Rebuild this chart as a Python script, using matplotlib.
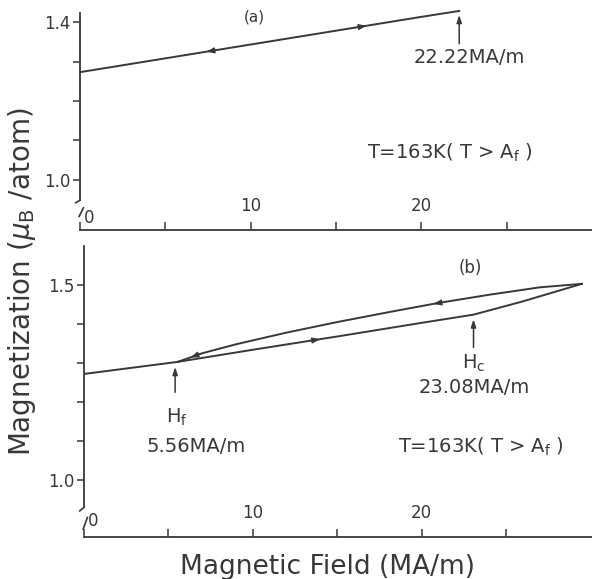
import numpy as np
import matplotlib
matplotlib.use("Agg")
import matplotlib.pyplot as plt

# ---- data ----
# panel (a): reversible M-H line
field_a = [0.0, 5.0, 10.0, 15.0, 20.0, 22.22]
magn_a = [1.273, 1.308, 1.343, 1.378, 1.413, 1.428]

# panel (b): initial part (common to both branches)
field_b_init = [0.0, 5.56]
magn_b_init = [1.272, 1.303]
# increasing-field branch (lower)
field_b_up = [5.56, 10.0, 15.0, 20.0, 23.08, 26.0, 29.5]
magn_b_up = [1.303, 1.334, 1.368, 1.403, 1.424, 1.458, 1.503]
# decreasing-field branch (upper)
field_b_down = [29.5, 27.0, 24.0, 21.0, 18.0, 15.0, 12.0, 9.0, 7.0, 5.56]
magn_b_down = [1.503, 1.494, 1.475, 1.454, 1.430, 1.405, 1.378, 1.348, 1.325, 1.303]

xticks = [0, 5, 10, 15, 20, 25]
xticklabels = ["", "", "10", "", "20", ""]
yticks_a = [1.0, 1.1, 1.2, 1.3, 1.4]
yticklabels_a = ["1.0", "", "", "", "1.4"]
yticks_b = [1.0, 1.1, 1.2, 1.3, 1.4, 1.5]
yticklabels_b = ["1.0", "", "", "", "", "1.5"]

INK = "#383838"
plt.rcParams["font.family"] = ["DejaVu Sans"]
plt.rcParams["mathtext.fontset"] = "dejavusans"

W, H = 592, 579
fig = plt.figure(figsize=(W / 100, H / 100), dpi=100)

def px_axes(left, top, bottom, right=592):
    return fig.add_axes([left / W, 1 - bottom / H, (right - left) / W, (bottom - top) / H])

ax_a = px_axes(80, 13, 230)
ax_b = px_axes(84, 246, 537)

def style(ax, yticks, ylabels, ylim, xlim, brk):
    ax.set_xlim(*xlim)
    ax.set_ylim(*ylim)
    for s in ["top", "right"]:
        ax.spines[s].set_visible(False)
    for s in ["left", "bottom"]:
        ax.spines[s].set_color(INK)
        ax.spines[s].set_linewidth(1.3)
    ax.spines["left"].set_bounds(brk, ylim[1])
    ax.set_xticks(xticks)
    ax.set_xticklabels(xticklabels)
    ax.set_yticks(yticks)
    ax.set_yticklabels(ylabels)
    ax.tick_params(axis="x", direction="in", length=6, width=1.1, color=INK,
                   labelcolor=INK, labelsize=12, pad=-24)
    ax.tick_params(axis="y", direction="out", length=5, width=1.1, color=INK,
                   labelcolor=INK, labelsize=12, pad=2)
    ax.patch.set_alpha(0)
    # axis break marks on the y axis
    trans = ax.transData
    yr = ylim[1] - ylim[0]
    ax.plot([0, -0.25], [brk, brk - 0.012 * yr], color=INK, lw=1.2,
            clip_on=False, transform=trans)
    ax.plot([0.2, -0.05], [brk - 0.035 * yr, brk - 0.075 * yr], color=INK, lw=1.2,
            clip_on=False, transform=trans)
    ax.text(0.55, ylim[0] + 0.055 * yr, "0", fontsize=12, color=INK,
            ha="center", va="center")

style(ax_a, yticks_a, yticklabels_a, (0.8734, 1.4228), (0, 30.0), 0.949)
style(ax_b, yticks_b, yticklabels_b, (0.854, 1.600), (0, 30.1), 0.93)

LW = 1.4

def arrow_on(ax, xs, ys, x0, direction):
    xs = np.asarray(xs); ys = np.asarray(ys)
    order = np.argsort(xs)
    y0 = np.interp(x0, xs[order], ys[order])
    x1 = x0 + 0.6 * direction
    y1 = np.interp(x1, xs[order], ys[order])
    ax.annotate("", xy=(x1, y1), xytext=(x0, y0),
                arrowprops=dict(arrowstyle="-|>,head_length=0.5,head_width=0.18",
                                color=INK, lw=0.8, shrinkA=0, shrinkB=0))

# ---- panel (a) ----
ax_a.plot(field_a, magn_a, color=INK, lw=LW, clip_on=False)
arrow_on(ax_a, field_a, magn_a, 8.0, -1)
arrow_on(ax_a, field_a, magn_a, 16.2, +1)
ax_a.annotate("", xy=(field_a[-1], 1.418), xytext=(field_a[-1], 1.345),
              arrowprops=dict(arrowstyle="-|>,head_length=0.45,head_width=0.15",
                              color=INK, lw=1.1, shrinkA=0, shrinkB=0))
ax_a.text(22.8, 1.310, "22.22MA/m", fontsize=14, color=INK, ha="center", va="center")
ax_a.text(10.2, 1.412, "(a)", fontsize=11, color=INK, ha="center", va="center")
ax_a.text(21.7, 1.068, r"T=163K( T > A$_\mathrm{f}$ )", fontsize=14, color=INK,
          ha="center", va="center")

# ---- panel (b) ----
ax_b.plot(field_b_init, magn_b_init, color=INK, lw=LW)
ax_b.plot(field_b_up, magn_b_up, color=INK, lw=LW, clip_on=False)
ax_b.plot(field_b_down, magn_b_down, color=INK, lw=LW, clip_on=False)
arrow_on(ax_b, field_b_up, magn_b_up, 13.4, +1)
arrow_on(ax_b, field_b_down, magn_b_down, 21.3, -1)
arrow_on(ax_b, field_b_down, magn_b_down, 6.9, -1)

ax_b.annotate("", xy=(5.4, 1.290), xytext=(5.4, 1.225),
              arrowprops=dict(arrowstyle="-|>,head_length=0.45,head_width=0.15",
                              color=INK, lw=1.1, shrinkA=0, shrinkB=0))
ax_b.annotate("", xy=(23.08, 1.412), xytext=(23.08, 1.340),
              arrowprops=dict(arrowstyle="-|>,head_length=0.45,head_width=0.15",
                              color=INK, lw=1.1, shrinkA=0, shrinkB=0))
ax_b.text(5.5, 1.162, r"H$_\mathrm{f}$", fontsize=14, color=INK, ha="center", va="center")
ax_b.text(6.65, 1.085, "5.56MA/m", fontsize=14, color=INK, ha="center", va="center")
ax_b.text(23.1, 1.300, r"H$_\mathrm{c}$", fontsize=14, color=INK, ha="center", va="center")
ax_b.text(23.1, 1.238, "23.08MA/m", fontsize=14, color=INK, ha="center", va="center")
ax_b.text(22.9, 1.544, "(b)", fontsize=12, color=INK, ha="center", va="center")
ax_b.text(23.5, 1.085, r"T=163K( T > A$_\mathrm{f}$ )", fontsize=14, color=INK,
          ha="center", va="center")

# ---- axis titles ----
fig.text(22 / W, 1 - 282 / H, r"Magnetization ($\mu_\mathrm{B}$ /atom)", rotation=90,
         fontsize=20, color=INK, ha="center", va="center")
fig.text(328 / W, 1 - 567 / H, "Magnetic Field (MA/m)", fontsize=19, color=INK,
         ha="center", va="center")

fig.savefig("out.png", dpi=100)
